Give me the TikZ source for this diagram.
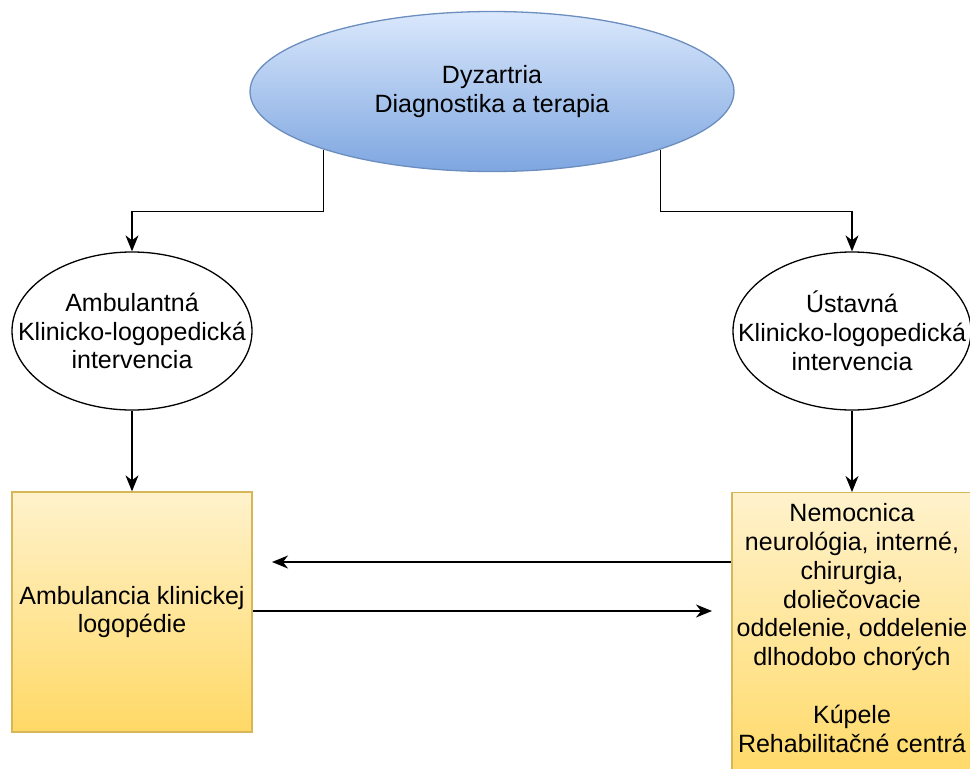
\documentclass[tikz,border=0pt]{standalone}
\usepackage{fontspec}
\setmainfont{Liberation Sans}
\usetikzlibrary{shapes.geometric,arrows.meta,calc}
\definecolor{blueTop}{HTML}{DAE8FC}
\definecolor{blueBot}{HTML}{7EA6E0}
\definecolor{blueStroke}{HTML}{6C8EBF}
\definecolor{yelTop}{HTML}{FFF2CC}
\definecolor{yelBot}{HTML}{FFD966}
\definecolor{yelStroke}{HTML}{D6B656}
\begin{document}
\begin{tikzpicture}[x=1pt,y=-1pt,
  every node/.style={font=\fontsize{25}{28.8}\selectfont, align=center, inner sep=0pt},
  topell/.style={ellipse, draw=blueStroke, line width=1.3pt, top color=blueTop, bottom color=blueBot, minimum width=484pt, minimum height=160pt, inner xsep=-40pt},
  subell/.style={ellipse, draw=black, line width=1.3pt, fill=white, minimum width=240pt, minimum height=158pt, inner xsep=-40pt},
  yelbox/.style={rectangle, draw=yelStroke, line width=1.3pt, top color=yelTop, bottom color=yelBot, minimum width=240pt},
  arr/.style={line width=1.3pt, -{Stealth[length=16pt,width=13pt,inset=5pt]}}
]
\useasboundingbox (0,0) rectangle (970,769);
\node[topell] (top) at (492,91.5) {Dyzartria\\Diagnostika a terapia};
\node[subell] (amb) at (132,331) {Ambulantná\\Klinicko-logopedická\\intervencia};
\node[subell, minimum width=238pt] (ust) at (852,331) {Ústavná\\Klinicko-logopedická\\intervencia};
\node[yelbox, minimum height=240pt] (ambc) at (132,612) {Ambulancia klinickej\\logopédie};
\node[yelbox, minimum height=290pt, anchor=north] (hosp) at (852,492) {};
\node (hospt) at (852,628) {Nemocnica\\neurológia, interné,\\chirurgia,\\doliečovacie\\oddelenie, oddelenie\\dlhodobo chorých\\[28.8pt]Kúpele\\Rehabilitačné centrá};
\draw[arr] (top.199.5) |- ($(amb.north)+(0,-40)$) -- (amb.north);
\draw[arr] (top.-19.5) |- ($(ust.north)+(0,-40)$) -- (ust.north);
\draw[arr] (amb.south) -- (ambc.north);
\draw[arr] (ust.south) -- (hosp.north);
\coordinate (lt) at (272,562);
\coordinate (rt) at (712,611);
\draw[arr] (hosp.west |- lt) -- (lt);
\draw[arr] (ambc.east |- rt) -- (rt);
\end{tikzpicture}
\end{document}
